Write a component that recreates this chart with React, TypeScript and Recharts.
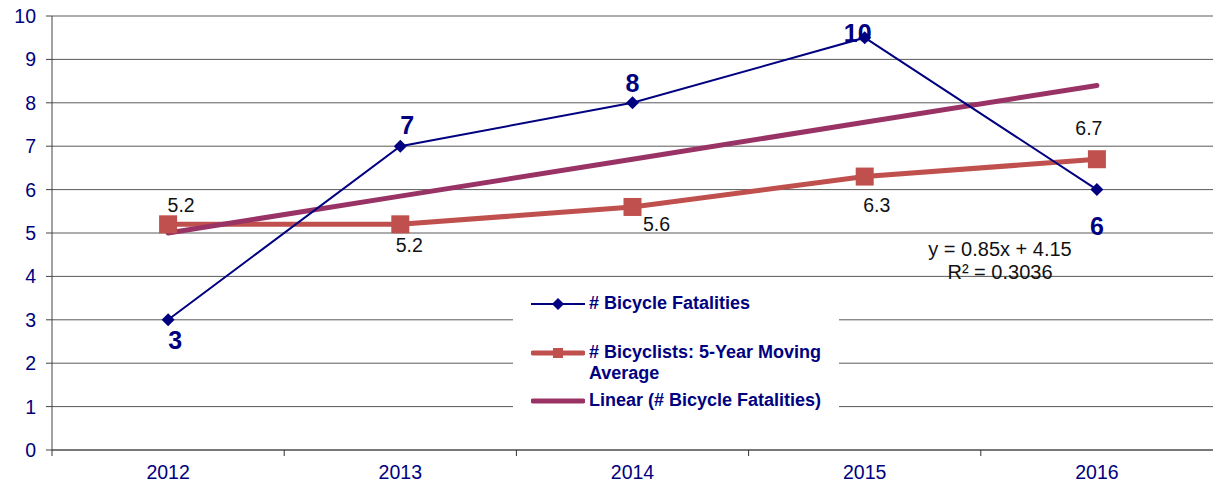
import { LineChart, Line, XAxis, YAxis, CartesianGrid, Legend, LabelList } from "recharts";

const years = ["2012", "2013", "2014", "2015", "2016"];
const fatalities = [3, 7, 8, 9.5, 6];
const movingAvg = [5.2, 5.2, 5.6, 6.3, 6.7];
const trend = [5.0, 5.85, 6.7, 7.55, 8.4];
const yTicks = [0, 1, 2, 3, 4, 5, 6, 7, 8, 9, 10];

const data = years.map((year, i) => ({
  year,
  fatalities: fatalities[i],
  movingAvg: movingAvg[i],
  trend: trend[i],
}));

const NAVY = "#000080";
const RED = "#C0504D";
const PURPLE = "#993366";
const FONT = '"Liberation Sans", Arial, sans-serif';
const BAND = 1161 / 5;

// label nudges per point, picked by eye
const fatalOffsets = [[7, 20], [7, -21], [0, -20], [-7, -5], [0, 36]];
const avgOffsets = [[13, -19], [9, 21], [24, 17], [12, 28], [-8, -31]];

function YearTick(props: any) {
  const { x, y, payload } = props;
  return (
    <g>
      <line x1={x - BAND / 2} x2={x - BAND / 2} y1={y} y2={y + 6} stroke="#333" />
      <text x={x} y={y + 29} textAnchor="middle" fill={NAVY} fontSize={19.5} fontFamily={FONT}>
        {payload.value}
      </text>
    </g>
  );
}

function Diamond(props: any) {
  const { cx, cy } = props;
  if (cx == null || cy == null) return null;
  const r = 6.5;
  return <polygon points={`${cx},${cy - r} ${cx + r},${cy} ${cx},${cy + r} ${cx - r},${cy}`} fill={NAVY} />;
}

function Square(props: any) {
  const { cx, cy } = props;
  if (cx == null || cy == null) return null;
  return <rect x={cx - 9} y={cy - 9} width={18} height={18} fill={RED} />;
}

function FatalLabel(props: any) {
  const { x, y, value, index } = props;
  const [dx, dy] = fatalOffsets[index];
  return (
    <text x={x + dx} y={y + dy} textAnchor="middle" dominantBaseline="central" fill={NAVY}
      fontSize={25} fontWeight="bold" fontFamily={FONT}>
      {Math.round(value)}
    </text>
  );
}

function AvgLabel(props: any) {
  const { x, y, value, index } = props;
  const [dx, dy] = avgOffsets[index];
  return (
    <text x={x + dx} y={y + dy} textAnchor="middle" dominantBaseline="central" fill="#111"
      fontSize={19.5} fontFamily={FONT}>
      {value.toFixed(1)}
    </text>
  );
}

function LegendBox() {
  const row = { display: "flex", alignItems: "flex-start", gap: 4 } as const;
  const txt = { color: NAVY, fontWeight: "bold", fontSize: 18, lineHeight: "21px", fontFamily: FONT } as const;
  return (
    <div style={{ background: "#fff", width: 326, height: 130, boxSizing: "border-box", padding: "12px 0 0 18px" }}>
      <div style={{ ...row, height: 49 }}>
        <svg width={54} height={21}>
          <line x1={0} x2={54} y1={11} y2={11} stroke={NAVY} strokeWidth={2} />
          <polygon points="27,5 33,11 27,17 21,11" fill={NAVY} />
        </svg>
        <span style={txt}># Bicycle Fatalities</span>
      </div>
      <div style={{ ...row, height: 48 }}>
        <svg width={54} height={21}>
          <line x1={2} x2={52} y1={11} y2={11} stroke={RED} strokeWidth={5} strokeLinecap="round" />
          <rect x={22} y={6} width={10} height={10} fill={RED} />
        </svg>
        <span style={{ ...txt, width: 245 }}># Bicyclists: 5-Year Moving Average</span>
      </div>
      <div style={row}>
        <svg width={54} height={21}>
          <line x1={2} x2={52} y1={11} y2={11} stroke={PURPLE} strokeWidth={5} strokeLinecap="round" />
        </svg>
        <span style={txt}>Linear (# Bicycle Fatalities)</span>
      </div>
    </div>
  );
}

export default function App() {
  return (
    <div style={{ position: "absolute", left: 0, top: 0, width: 1213, height: 488, background: "#fff", fontFamily: FONT }}>
      <LineChart width={1213} height={488} data={data} margin={{ top: 16, right: 0, bottom: 0, left: 0 }}>
        <CartesianGrid vertical={false} stroke="#5a5a5a" />
        <XAxis dataKey="year" height={38} tickSize={0} tickMargin={0} axisLine={{ stroke: "#444" }}
          padding={{ left: BAND / 2, right: BAND / 2 }}
          tick={<YearTick />} interval={0} />
        <YAxis width={52} domain={[0, 10]} ticks={yTicks} interval={0} tickSize={6} tickMargin={10}
          axisLine={{ stroke: "#444" }} tickLine={{ stroke: "#444" }}
          tick={{ fill: NAVY, fontSize: 19.5, fontFamily: FONT }} />
        <Legend layout="vertical" align="center" verticalAlign="middle"
          wrapperStyle={{ left: 513, top: 281, width: 326, height: 130 }}
          content={() => <LegendBox />} />
        <Line type="linear" dataKey="movingAvg" stroke={RED} strokeWidth={5} dot={<Square />}
          isAnimationActive={false}>
          <LabelList dataKey="movingAvg" content={<AvgLabel />} />
        </Line>
        <Line type="linear" dataKey="trend" stroke={PURPLE} strokeWidth={5} strokeLinecap="round" dot={false}
          isAnimationActive={false} />
        <Line type="linear" dataKey="fatalities" stroke={NAVY} strokeWidth={2} dot={<Diamond />}
          isAnimationActive={false}>
          <LabelList dataKey="fatalities" content={<FatalLabel />} />
        </Line>
      </LineChart>
      <div style={{ position: "absolute", left: 890, top: 238, width: 220, textAlign: "center", fontSize: 20, lineHeight: "23px", color: "#111" }}>
        y = 0.85x + 4.15<br />R² = 0.3036
      </div>
    </div>
  );
}
